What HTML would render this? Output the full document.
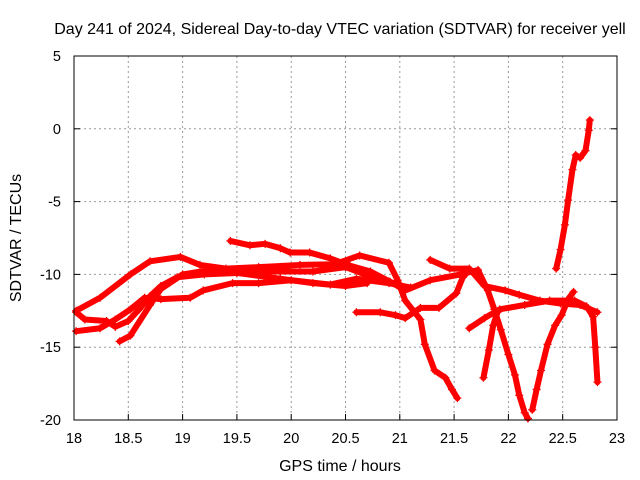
<!DOCTYPE html>
<html><head><meta charset="utf-8"><style>
body{margin:0;background:#fff}
svg{display:block;font-family:"Liberation Sans",sans-serif}
</style></head><body>
<svg id="chart" width="640" height="480" viewBox="0 0 640 480">
<rect width="640" height="480" fill="#fff"/>
<text x="340" y="34" font-size="16" text-anchor="middle" fill="#000">Day 241 of 2024, Sidereal Day-to-day VTEC variation (SDTVAR) for receiver yell</text>
<g id="grid"></g>
<g id="series"></g>
<rect x="74" y="56" width="543" height="364" fill="none" stroke="#000" stroke-width="1"/>
<g id="ticks"></g>
<text x="340" y="471" font-size="16" text-anchor="middle">GPS time / hours</text>
<text transform="translate(21,238) rotate(-90)" font-size="16" text-anchor="middle">SDTVAR / TECUs</text>
</svg>
<script>
const xTicks=[18,18.5,19,19.5,20,20.5,21,21.5,22,22.5,23];
const xTickLabels=["18","18.5","19","19.5","20","20.5","21","21.5","22","22.5","23"];
const yTicks=[5,0,-5,-10,-15,-20];
const yTickLabels=["5","0","-5","-10","-15","-20"];
const s1=[[18.02,-12.5],[18.24,-11.6],[18.52,-10.0],[18.7,-9.1],[18.98,-8.8],[19.16,-9.35],[19.4,-9.6],[19.7,-9.5],[20.08,-9.35],[20.4,-9.3],[20.63,-8.7],[20.9,-9.2],[20.98,-10.4],[21.05,-11.8],[21.19,-13.1],[21.23,-14.8],[21.32,-16.6],[21.42,-17.1],[21.48,-17.9],[21.53,-18.5]];
const s2=[[18.02,-13.9],[18.24,-13.7],[18.38,-13.1],[18.52,-12.4],[18.65,-11.6],[18.8,-11.7],[19.07,-11.6],[19.19,-11.1],[19.46,-10.6],[19.7,-10.6],[20.0,-10.4],[20.36,-10.7],[20.6,-10.3],[20.9,-10.6],[21.1,-10.9]];
const s3=[[18.42,-14.6],[18.52,-14.2],[18.7,-12.1],[18.8,-11.0],[19.0,-10.0],[19.25,-9.7],[19.6,-9.8],[19.9,-9.8],[20.2,-9.8],[20.5,-9.5],[20.75,-10.2],[21.0,-10.7]];
const s4=[[18.02,-12.6],[18.1,-13.1],[18.3,-13.2],[18.38,-13.6],[18.5,-13.2],[18.6,-12.4],[18.7,-11.5],[18.8,-10.8],[18.95,-10.2],[19.2,-10.0],[19.5,-9.9],[19.9,-10.3],[20.2,-10.6],[20.5,-10.8],[20.7,-10.6]];
const s5=[[19.44,-7.7],[19.62,-8.0],[19.76,-7.9],[19.9,-8.2],[19.99,-8.5],[20.17,-8.5],[20.36,-8.9],[20.54,-9.4],[20.73,-9.8],[20.91,-10.5],[21.05,-11.1],[21.28,-10.4],[21.56,-10.0],[21.72,-9.7],[21.81,-11.1],[21.87,-12.4],[21.93,-13.8],[22.0,-15.5],[22.06,-16.9],[22.1,-18.3],[22.15,-19.5],[22.18,-19.9]];
const s6=[[22.22,-19.3],[22.26,-17.9],[22.3,-16.6],[22.36,-14.8],[22.43,-13.5],[22.49,-12.8],[22.55,-11.7],[22.6,-11.2]];
const s7=[[22.44,-9.6],[22.48,-8.3],[22.52,-6.6],[22.55,-4.9],[22.59,-2.8],[22.62,-1.8],[22.66,-2.0],[22.71,-1.5],[22.74,-0.1],[22.75,0.6]];
const s8=[[21.64,-13.7],[21.78,-13.0],[21.92,-12.4],[22.15,-12.1],[22.38,-11.8],[22.61,-11.8],[22.72,-12.2],[22.78,-12.9],[22.8,-15.0],[22.82,-17.4]];
const s9=[[21.77,-17.1],[21.82,-15.2],[21.86,-13.5],[21.9,-12.6]];
const s10=[[21.28,-9.0],[21.46,-9.6],[21.64,-9.6],[21.78,-10.8],[21.97,-11.1],[22.1,-11.4],[22.29,-11.8],[22.48,-12.0],[22.66,-12.1],[22.82,-12.6]];
const s11=[[20.6,-12.6],[20.82,-12.6],[20.96,-12.8],[21.05,-13.0],[21.19,-12.3],[21.36,-12.3],[21.52,-11.3],[21.58,-10.2],[21.64,-9.7]];
const allSeries=[s1,s2,s3,s4,s5,s6,s7,s8,s9,s10,s11];
const NS="http://www.w3.org/2000/svg";
const X=h=>74+(h-18)*543/5, Y=v=>56+(5-v)*364/25;
function mk(t,a,p){const e=document.createElementNS(NS,t);for(const k in a)e.setAttribute(k,a[k]);p.appendChild(e);return e;}
const grid=document.getElementById('grid'),ticks=document.getElementById('ticks'),ser=document.getElementById('series');
xTicks.forEach((t,i)=>{
 if(i>0&&i<xTicks.length-1){const g=mk('line',{x1:X(t),x2:X(t),y1:56,y2:420,stroke:'#999','stroke-dasharray':'2,3'},grid);
 }
 const l=mk('line',{x1:X(t),x2:X(t),y1:420,y2:414,stroke:'#000'},ticks);
 
 const tx=mk('text',{x:X(t),y:443,'font-size':14.5,'text-anchor':'middle'},ticks);tx.textContent=xTickLabels[i];
 
});
yTicks.forEach((t,i)=>{
 if(i>0&&i<yTicks.length-1){const g=mk('line',{x1:74,x2:617,y1:Y(t),y2:Y(t),stroke:'#999','stroke-dasharray':'2,3'},grid);
 }
 const l=mk('line',{x1:74,x2:80,y1:Y(t),y2:Y(t),stroke:'#000'},ticks);
 
 const l2=mk('line',{x1:611,x2:617,y1:Y(t),y2:Y(t),stroke:'#000'},ticks);
 
 const tx=mk('text',{x:61,y:Y(t)+5,'font-size':14.5,'text-anchor':'end'},ticks);tx.textContent=yTickLabels[i];
 
});
allSeries.forEach((s,k)=>{
 const pl=mk('polyline',{points:s.map(p=>X(p[0])+','+Y(p[1])).join(' '),fill:'none',stroke:'#f00','stroke-width':6,'stroke-linejoin':'round','stroke-linecap':'round'},ser);
 
 s.forEach(p=>{const x=X(p[0]),y=Y(p[1]);
  const m=mk('path',{d:`M${x-4},${y}h8M${x},${y-4}v8`,stroke:'#f00','stroke-width':1.3},ser);
  });
});
</script>
</body></html>
